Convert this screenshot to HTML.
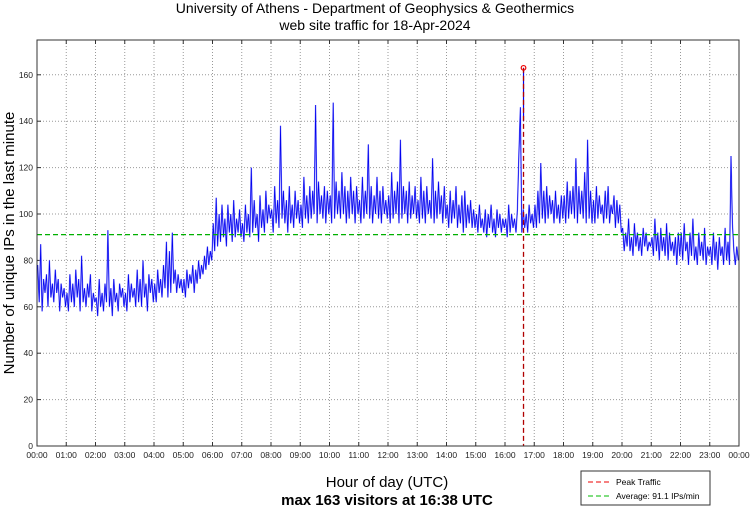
<!DOCTYPE html>
<html><head><meta charset="utf-8"><style>
body{margin:0;background:#fff;font-family:"Liberation Sans",sans-serif}
svg text{font-family:"Liberation Sans",sans-serif}
</style></head><body>
<svg id="c" width="750" height="511" xmlns="http://www.w3.org/2000/svg">
<text x="375" y="13" text-anchor="middle" font-size="14">University of Athens - Department of Geophysics &amp; Geothermics</text>
<text x="375" y="30" text-anchor="middle" font-size="14">web site traffic for 18-Apr-2024</text>
<g id="grid"></g>
<g id="series"></g>
<rect x="37" y="40" width="702" height="406" fill="none" stroke="#333" stroke-width="1"/>
<text transform="translate(14,243) rotate(-90)" text-anchor="middle" font-size="15">Number of unique IPs in the last minute</text>
<text x="387" y="487" text-anchor="middle" font-size="15">Hour of day (UTC)</text>
<text x="387" y="505" text-anchor="middle" font-size="15" font-weight="bold">max 163 visitors at 16:38 UTC</text>
<g>
<rect x="581" y="471" width="129" height="34" fill="#fff" stroke="#333"/>
<line x1="588" y1="482" x2="612" y2="482" stroke="#e00" stroke-dasharray="5,3"/>
<text x="616" y="485" font-size="8.5">Peak Traffic</text>
<line x1="588" y1="496" x2="612" y2="496" stroke="#0b0" stroke-dasharray="5,3"/>
<text x="616" y="499" font-size="8.5">Average: 91.1 IPs/min</text>
</g>
</svg>
<script>
const yTicks=[0,20,40,60,80,100,120,140,160];
const xTickLabels=["00:00","01:00","02:00","03:00","04:00","05:00","06:00","07:00","08:00","09:00","10:00","11:00","12:00","13:00","14:00","15:00","16:00","17:00","18:00","19:00","20:00","21:00","22:00","23:00","00:00"];
const averageValue=91.1;
const peakHour=16.633;
const peakValue=163;
// samples every 3 minutes (20 per hour)
const traffic=[
78,62,87,58,72,66,74,60,80,64,70,62,76,66,72,58,70,64,68,60,
66,58,74,62,70,60,76,64,72,58,82,62,68,60,70,64,74,58,66,62,
64,56,72,60,66,58,70,62,93,60,68,56,72,62,66,58,70,64,68,60,
66,58,74,62,70,64,68,60,76,62,72,60,80,64,70,58,74,66,72,62,
70,62,76,66,72,64,78,68,88,64,84,66,92,70,76,66,74,68,72,66,
72,64,76,68,74,70,78,66,76,70,80,72,78,74,82,76,86,78,84,80,
96,84,107,86,100,88,104,90,98,86,104,92,100,88,106,90,98,92,102,90,
96,88,104,92,100,90,120,92,106,94,100,88,108,94,102,92,110,96,104,98,
102,92,112,96,106,94,138,98,110,96,106,92,112,96,104,94,110,98,106,96,
104,94,116,98,108,96,112,98,110,100,147,96,114,100,108,98,112,96,110,100,
108,96,148,98,114,100,110,98,118,100,112,96,110,98,116,100,110,96,112,100,
106,96,116,98,110,100,130,98,112,96,108,100,116,98,110,96,112,100,106,98,
108,96,118,98,110,100,114,96,132,98,112,100,110,96,114,98,108,100,112,98,
106,96,116,98,110,96,112,100,106,98,124,96,110,98,114,100,108,96,112,98,
104,94,110,96,106,98,112,94,104,96,108,92,110,94,104,96,106,94,102,94,
100,92,104,94,98,92,102,90,100,94,104,92,98,90,102,94,100,92,98,94,
98,90,104,92,100,94,98,92,102,126,146,92,102,94,100,92,104,96,100,94,
104,94,110,96,122,98,110,96,112,98,108,100,106,96,110,98,104,96,108,98,
108,96,114,98,110,100,112,98,124,96,112,100,110,98,118,96,132,98,110,96,
106,96,112,98,108,100,104,96,110,98,112,96,104,100,108,94,106,96,104,92,
94,84,92,86,98,84,90,82,96,86,92,84,90,82,94,86,92,84,88,86,
90,82,98,84,92,80,94,84,90,82,96,80,92,84,88,82,90,78,92,82,
92,80,96,84,88,78,92,82,98,80,86,78,92,82,88,80,94,78,86,82,
86,78,92,80,88,76,90,82,86,78,94,80,88,78,125,96,84,78,86,80
];
const X0=37,X1=739,Y0=446,Y1=40,YMAX=175;
const sx=h=>X0+(X1-X0)*h/24;
const sy=v=>Y0-(Y0-Y1)*v/YMAX;
const NS="http://www.w3.org/2000/svg";
const grid=document.getElementById('grid');
const ser=document.getElementById('series');
function mk(tag,attrs,parent){const e=document.createElementNS(NS,tag);for(const k in attrs)e.setAttribute(k,attrs[k]);parent.appendChild(e);return e;}
yTicks.forEach(v=>{
  const y=sy(v);
  const g=mk('line',{x1:X0,x2:X1,y1:y,y2:y,stroke:'#999','stroke-dasharray':'1,2'},grid);
  
  
  mk('line',{x1:X0,x2:X0+4,y1:y,y2:y,stroke:'#333'},grid);
  const t=mk('text',{x:X0-4,y:y+3,'text-anchor':'end','font-size':'8.5',fill:'#222'},grid);
  t.textContent=v;
  
  
});
xTickLabels.forEach((lab,i)=>{
  const x=sx(i);
  const g=mk('line',{x1:x,x2:x,y1:Y1,y2:Y0,stroke:'#999','stroke-dasharray':'1,2'},grid);
  
  
  mk('line',{x1:x,x2:x,y1:Y0,y2:Y0-4,stroke:'#333'},grid);
  mk('line',{x1:x,x2:x,y1:Y1,y2:Y1+4,stroke:'#333'},grid);
  const t=mk('text',{x:x,y:Y0+12,'text-anchor':'middle','font-size':'8.5',fill:'#222'},grid);
  t.textContent=lab;
  
  
});
const n=traffic.length;
const pts=traffic.map((v,i)=>sx(24*(i+0.5)/n).toFixed(1)+','+sy(v).toFixed(1)).join(' ');
const l1=mk('polyline',{points:pts,fill:'none',stroke:'#9090ff','stroke-width':'1.4'},ser);


const l2=mk('polyline',{points:pts,fill:'none',stroke:'#0000ee','stroke-width':'0.7'},ser);


const pk=mk('line',{x1:sx(peakHour),x2:sx(peakHour),y1:sy(peakValue),y2:sy(140),stroke:'#0000ee','stroke-width':'1.2'},ser);


const av=mk('line',{x1:X0,x2:X1,y1:sy(averageValue),y2:sy(averageValue),stroke:'#00b000','stroke-width':'1.3','stroke-dasharray':'5,3'},ser);


const pl=mk('line',{x1:sx(peakHour),x2:sx(peakHour),y1:sy(peakValue),y2:Y0,stroke:'#b00000','stroke-width':'1.3','stroke-dasharray':'5,3'},ser);


const pm=mk('circle',{cx:sx(peakHour),cy:sy(peakValue),r:2.3,fill:'none',stroke:'#e00','stroke-width':'1.2'},ser);


</script>
</body></html>
